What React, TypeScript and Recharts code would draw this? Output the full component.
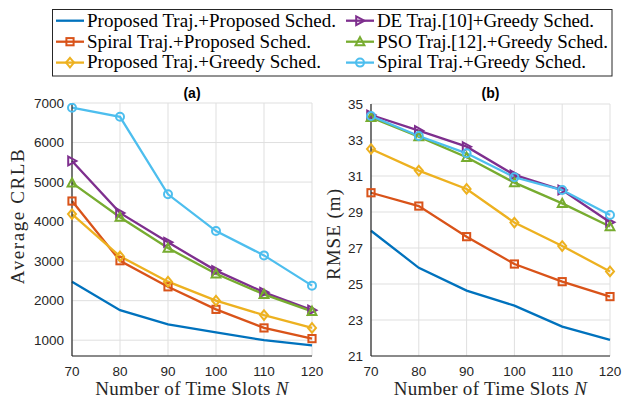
import { CartesianGrid, Line, LineChart, XAxis, YAxis } from "recharts";

const slots = [70, 80, 90, 100, 110, 120];

// (a) average CRLB
const crlbPropProp = [2480, 1760, 1400, 1195, 1000, 870];
const crlbSpiralProp = [4520, 3010, 2350, 1780, 1310, 1040];
const crlbPropGreedy = [4190, 3120, 2480, 2000, 1635, 1310];
const crlbDeGreedy = [5535, 4220, 3475, 2760, 2210, 1760];
const crlbPsoGreedy = [4980, 4110, 3330, 2680, 2160, 1730];
const crlbSpiralGreedy = [6880, 6650, 4690, 3760, 3145, 2380];

// (b) RMSE (m)
const rmsePropProp = [27.96, 25.9, 24.63, 23.8, 22.63, 21.89];
const rmseSpiralProp = [30.07, 29.33, 27.63, 26.11, 25.13, 24.3];
const rmsePropGreedy = [32.5, 31.3, 30.28, 28.41, 27.11, 25.7];
const rmseDeGreedy = [34.39, 33.52, 32.63, 31.06, 30.22, 28.43];
const rmsePsoGreedy = [34.26, 33.19, 32.04, 30.63, 29.48, 28.19];
const rmseSpiralGreedy = [34.33, 33.22, 32.26, 30.93, 30.22, 28.83];

const crlbTicks = [1000, 2000, 3000, 4000, 5000, 6000, 7000];
const rmseTicks = [21, 23, 25, 27, 29, 31, 33, 35];

type Shape = "none" | "square" | "diamond" | "tright" | "tup" | "circle";

const series: { key: string; name: string; color: string; shape: Shape }[] = [
  { key: "pp", name: "Proposed Traj.+Proposed Sched.", color: "#0072BD", shape: "none" },
  { key: "sp", name: "Spiral Traj.+Proposed Sched.", color: "#D95319", shape: "square" },
  { key: "pg", name: "Proposed Traj.+Greedy Sched.", color: "#EDB120", shape: "diamond" },
  { key: "de", name: "DE Traj.[10]+Greedy Sched.", color: "#7E2F8E", shape: "tright" },
  { key: "pso", name: "PSO Traj.[12].+Greedy Sched.", color: "#77AC30", shape: "tup" },
  { key: "sg", name: "Spiral Traj.+Greedy Sched.", color: "#4DBEEE", shape: "circle" },
];

const crlbData = slots.map((n, i) => ({
  n,
  pp: crlbPropProp[i],
  sp: crlbSpiralProp[i],
  pg: crlbPropGreedy[i],
  de: crlbDeGreedy[i],
  pso: crlbPsoGreedy[i],
  sg: crlbSpiralGreedy[i],
}));

const rmseData = slots.map((n, i) => ({
  n,
  pp: rmsePropProp[i],
  sp: rmseSpiralProp[i],
  pg: rmsePropGreedy[i],
  de: rmseDeGreedy[i],
  pso: rmsePsoGreedy[i],
  sg: rmseSpiralGreedy[i],
}));

const AXIS = "#262626";
const SERIF = "'Liberation Serif', 'Times New Roman', serif";
const SANS = "'Liberation Sans', Arial, sans-serif";

function Marker({ cx, cy, shape, color }: { cx: number; cy: number; shape: Shape; color: string }) {
  const common = { fill: "none", stroke: color, strokeWidth: 2 };
  if (shape === "square") return <rect x={cx - 3.6} y={cy - 3.6} width={7.2} height={7.2} {...common} />;
  if (shape === "diamond")
    return <polygon points={`${cx},${cy - 4.8} ${cx + 4},${cy} ${cx},${cy + 4.8} ${cx - 4},${cy}`} {...common} />;
  if (shape === "tright")
    return <polygon points={`${cx - 3.8},${cy - 4.4} ${cx + 4.4},${cy} ${cx - 3.8},${cy + 4.4}`} {...common} />;
  if (shape === "tup")
    return <polygon points={`${cx},${cy - 4.6} ${cx + 4.4},${cy + 3.6} ${cx - 4.4},${cy + 3.6}`} {...common} />;
  if (shape === "circle") return <circle cx={cx} cy={cy} r={4} {...common} />;
  return <g />;
}

const serifStyle = { fontFamily: SERIF, fontSize: 19, fill: AXIS };

function xLabel() {
  return {
    content: (p: any) => {
      const vb = p.viewBox;
      return (
        <text x={vb.x + vb.width / 2} y={vb.y + 38.5} textAnchor="middle" style={{ ...serifStyle, letterSpacing: 0.3 }}>
          Number of Time Slots <tspan style={{ fontStyle: "italic", fontFamily: SERIF }}>N</tspan>
        </text>
      );
    },
  };
}

function yLabel(text: string, cx: number, dy: number, spacing: number) {
  return {
    content: (p: any) => {
      const vb = p.viewBox;
      const cy = vb.y + vb.height / 2 + dy;
      return (
        <text
          x={cx}
          y={cy}
          transform={`rotate(-90, ${cx}, ${cy})`}
          textAnchor="middle"
          dominantBaseline="central"
          style={{ ...serifStyle, letterSpacing: spacing }}
        >
          {text}
        </text>
      );
    },
  };
}

function Panel({
  data,
  domain,
  ticks,
  width,
  margin,
  yAxisWidth,
  label,
}: {
  data: any[];
  domain: [number, number];
  ticks: number[];
  width: number;
  margin: { top: number; right: number; bottom: number; left: number };
  yAxisWidth: number;
  label: any;
}) {
  const tick = { fontSize: 13.5, fill: AXIS, fontFamily: SANS };
  return (
    <LineChart width={width} height={317} data={data} margin={margin} style={{ overflow: "visible" }}>
      <CartesianGrid stroke="#dfdfdf" strokeWidth={1} />
      <XAxis
        dataKey="n"
        type="number"
        domain={[70, 120]}
        ticks={slots}
        tick={tick}
        tickLine={false}
        tickSize={0}
        tickMargin={10}
        height={41}
        axisLine={{ stroke: AXIS, strokeWidth: 1.2 }}
        label={xLabel()}
      />
      <YAxis
        type="number"
        domain={domain}
        ticks={ticks}
        allowDataOverflow
        tick={tick}
        tickLine={false}
        tickSize={0}
        tickMargin={8}
        width={yAxisWidth}
        axisLine={{ stroke: AXIS, strokeWidth: 1.2 }}
        label={label}
      />
      {series.map((s) => (
        <Line
          key={s.key}
          dataKey={s.key}
          stroke={s.color}
          strokeWidth={2.3}
          isAnimationActive={false}
          dot={(p: any) => <Marker key={`${s.key}-${p.index}`} cx={p.cx} cy={p.cy} shape={s.shape} color={s.color} />}
          activeDot={false}
        />
      ))}
    </LineChart>
  );
}

function Legend() {
  const rows = [20.7, 41.7, 62.6];
  const cols = [
    { x1: 56, x2: 84, tx: 87 },
    { x1: 346, x2: 374, tx: 377 },
  ];
  // rendered width of each entry, to match the reference's wider typeface
  const textWidths = [249, 224, 234, 217, 231, 209];
  return (
    <svg width={625} height={80} style={{ position: "absolute", left: 0, top: 0 }}>
      <rect x={52.5} y={9.5} width={559.5} height={66.5} fill="#fff" stroke={AXIS} strokeWidth={1} />
      {series.map((s, i) => {
        const c = cols[Math.floor(i / 3)];
        const y = rows[i % 3];
        return (
          <g key={s.key}>
            <line x1={c.x1} x2={c.x2} y1={y} y2={y} stroke={s.color} strokeWidth={2.3} />
            <Marker cx={(c.x1 + c.x2) / 2} cy={y} shape={s.shape} color={s.color} />
            <text
              x={c.tx}
              y={y + 5.8}
              textLength={textWidths[i]}
              lengthAdjust="spacing"
              style={{ fontFamily: SERIF, fontSize: 19, fill: "#000" }}
            >
              {s.name}
            </text>
          </g>
        );
      })}
    </svg>
  );
}

export default function App() {
  const title = {
    position: "absolute" as const,
    top: 85,
    fontFamily: SANS,
    fontWeight: 700,
    fontSize: 14,
    lineHeight: "16px",
    color: "#000",
    transform: "translateX(-50%)",
  };
  return (
    <div style={{ position: "absolute", left: 0, top: 0, width: 625, height: 397, background: "#fff" }}>
      <Legend />
      <div style={{ ...title, left: 192 }}>(a)</div>
      <div style={{ ...title, left: 490.5 }}>(b)</div>
      <div style={{ position: "absolute", left: 0, top: 80 }}>
        <Panel
          data={crlbData}
          domain={[600, 7000]}
          ticks={crlbTicks}
          width={330}
          margin={{ top: 23, right: 18, bottom: 0, left: 0 }}
          yAxisWidth={72}
          label={yLabel("Average CRLB", 17.5, -13.5, 1.6)}
        />
      </div>
      <div style={{ position: "absolute", left: 320, top: 80 }}>
        <Panel
          data={rmseData}
          domain={[21, 35]}
          ticks={rmseTicks}
          width={305}
          margin={{ top: 24, right: 15, bottom: 0, left: 0 }}
          yAxisWidth={51}
          label={yLabel("RMSE (m)", 13.5, 4, 1.0)}
        />
      </div>
    </div>
  );
}
